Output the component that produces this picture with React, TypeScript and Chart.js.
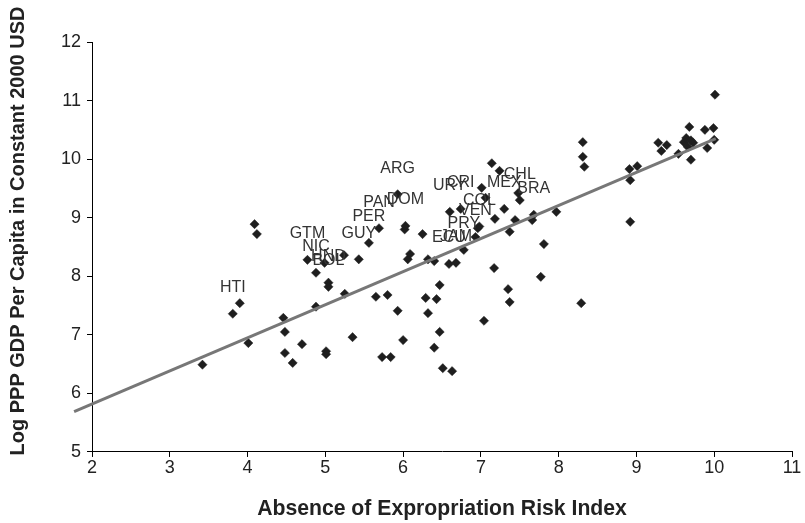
import React, { useEffect, useRef } from "react";
import { Chart, registerables } from "chart.js";

Chart.register(...registerables);

// Absence of expropriation risk index (x) and log GDP per capita (y)
const riskIndex = [
  3.42, 3.90, 3.81, 4.01, 4.09, 4.12, 4.46, 4.48, 4.48, 4.58,
  4.70, 4.77, 4.88, 4.88, 4.99, 5.04, 5.04, 5.01, 5.01, 5.24,
  5.25, 5.35, 5.43, 5.56, 5.65, 5.69, 5.73, 5.80, 5.84, 5.93,
  5.93, 6.00, 6.02, 6.03, 6.06, 6.09, 6.25, 6.29, 6.32, 6.32,
  6.40, 6.40, 6.43, 6.47, 6.47, 6.51, 6.59, 6.60, 6.63, 6.68,
  6.74, 6.78, 6.93, 6.96, 6.98, 7.01, 7.04, 7.06, 7.14, 7.17,
  7.18, 7.24, 7.30, 7.35, 7.37, 7.37, 7.44, 7.48, 7.50, 7.66,
  7.68, 7.77, 7.81, 7.97, 8.29, 8.31, 8.31, 8.33, 8.91, 8.92,
  8.92, 9.01, 9.28, 9.32, 9.39, 9.54, 9.61, 9.66, 9.68, 9.73,
  9.70, 9.88, 9.91, 9.99, 10.00, 10.01, 9.64, 9.70,
];
const logGdp = [
  6.49, 7.54, 7.36, 6.86, 8.89, 8.72, 7.29, 7.05, 6.69, 6.52,
  6.84, 8.28, 8.06, 7.48, 8.23, 7.89, 7.82, 6.72, 6.67, 8.36,
  7.70, 6.96, 8.29, 8.57, 7.65, 8.82, 6.62, 7.68, 6.62, 9.40,
  7.41, 6.91, 8.80, 8.86, 8.29, 8.38, 8.72, 7.63, 7.37, 8.29,
  8.26, 6.78, 7.61, 7.85, 7.05, 6.43, 8.21, 9.10, 6.38, 8.23,
  9.15, 8.45, 8.67, 8.82, 8.85, 9.51, 7.24, 9.34, 9.93, 8.14,
  8.98, 9.80, 9.15, 7.78, 8.76, 7.56, 8.96, 9.42, 9.30, 8.96,
  9.05, 7.99, 8.55, 9.10, 7.54, 10.29, 10.04, 9.87, 9.83, 9.64,
  8.93, 9.88, 10.28, 10.14, 10.24, 10.09, 10.29, 10.21, 10.55, 10.28,
  9.99, 10.50, 10.19, 10.53, 10.33, 11.10, 10.36, 10.32,
];
const countryCodes = [
  "", "", "HTI", "", "", "", "", "", "", "",
  "", "GTM", "NIC", "", "", "HND", "BOL", "", "", "",
  "", "", "GUY", "PER", "", "PAN", "", "", "", "ARG",
  "", "", "", "DOM", "", "", "", "", "", "",
  "", "", "", "", "", "", "ECU", "URY", "", "JAM",
  "CRI", "PRY", "VEN", "", "COL", "", "", "", "", "",
  "", "", "MEX", "", "", "", "", "", "CHL", "",
  "BRA", "", "", "", "", "", "", "", "", "",
  "", "", "", "", "", "", "", "", "", "",
  "", "", "", "", "", "", "", "",
];

// Fitted regression line endpoints
const fitX = [1.77, 10.02];
const fitY = [5.69, 10.35];

const xTitle = "Absence of Expropriation Risk Index";
const yTitle = "Log PPP GDP Per Capita in Constant 2000 USD";

const FONT = "Arial, 'Liberation Sans', Helvetica, sans-serif";

const labelPlugin = {
  id: "countryLabels",
  afterDatasetsDraw(chart: any) {
    const meta = chart.getDatasetMeta(1);
    const ctx = chart.ctx;
    ctx.save();
    ctx.font = `16px ${FONT}`;
    ctx.fillStyle = "#333";
    ctx.textAlign = "center";
    ctx.textBaseline = "middle";
    meta.data.forEach((el: any, i: number) => {
      const code = countryCodes[i];
      if (code) ctx.fillText(code, el.x, el.y - 26);
    });
    ctx.restore();
  },
};

const yTitlePlugin = {
  id: "yTitle",
  afterDraw(chart: any) {
    const ctx = chart.ctx;
    ctx.save();
    ctx.translate(18, 231);
    ctx.rotate(-Math.PI / 2);
    ctx.font = `bold 20px ${FONT}`;
    ctx.fillStyle = "#222";
    ctx.textAlign = "center";
    ctx.textBaseline = "middle";
    ctx.fillText(yTitle, 0, 0);
    ctx.restore();
  },
};

export default function App() {
  const ref = useRef<HTMLCanvasElement | null>(null);
  useEffect(() => {
    if (!ref.current) return;
    const points = riskIndex.map((x, i) => ({ x, y: logGdp[i] }));
    const line = fitX.map((x, i) => ({ x, y: fitY[i] }));
    const chart = new Chart(ref.current, {
      type: "scatter",
      data: {
        datasets: [
          {
            type: "line",
            data: line,
            borderColor: "#777",
            borderWidth: 3,
            pointRadius: 0,
            showLine: true,
            clip: false as any,
            order: 0,
          } as any,
          {
            data: points,
            pointStyle: "rectRot",
            pointRadius: 4.6,
            backgroundColor: "#1e1e1e",
            borderColor: "#1e1e1e",
            borderWidth: 0.5,
            order: 1,
          },
        ],
      },
      options: {
        animation: false,
        responsive: false,
        maintainAspectRatio: false,
        layout: { padding: { top: 42, right: 13, left: 0, bottom: 1 } },
        plugins: { legend: { display: false }, tooltip: { enabled: false } },
        scales: {
          x: {
            type: "linear",
            min: 2,
            max: 11,
            ticks: { stepSize: 1, color: "#222", font: { size: 18, family: FONT }, padding: 0 },
            grid: { drawOnChartArea: false, drawTicks: true, tickLength: 5, color: "#000" },
            border: { color: "#000", width: 1 },
            title: {
              display: true,
              text: xTitle,
              color: "#222",
              font: { size: 21.2, weight: "bold", family: FONT },
              padding: { top: 18, bottom: 0 },
            },
          },
          y: {
            type: "linear",
            min: 5,
            max: 12,
            afterFit: (scale: any) => {
              scale.width = 92;
            },
            ticks: { stepSize: 1, color: "#222", font: { size: 18, family: FONT }, padding: 6 },
            grid: { drawOnChartArea: false, drawTicks: true, tickLength: 5, color: "#000" },
            border: { color: "#000", width: 1 },
            title: { display: false },
          },
        },
      },
      plugins: [labelPlugin, yTitlePlugin],
    });
    return () => chart.destroy();
  }, []);
  return (
    <div style={{ position: "fixed", left: 0, top: 0, width: 805, height: 523, background: "#fff" }}>
      <canvas ref={ref} width={805} height={523} style={{ width: 805, height: 523 }} />
    </div>
  );
}
